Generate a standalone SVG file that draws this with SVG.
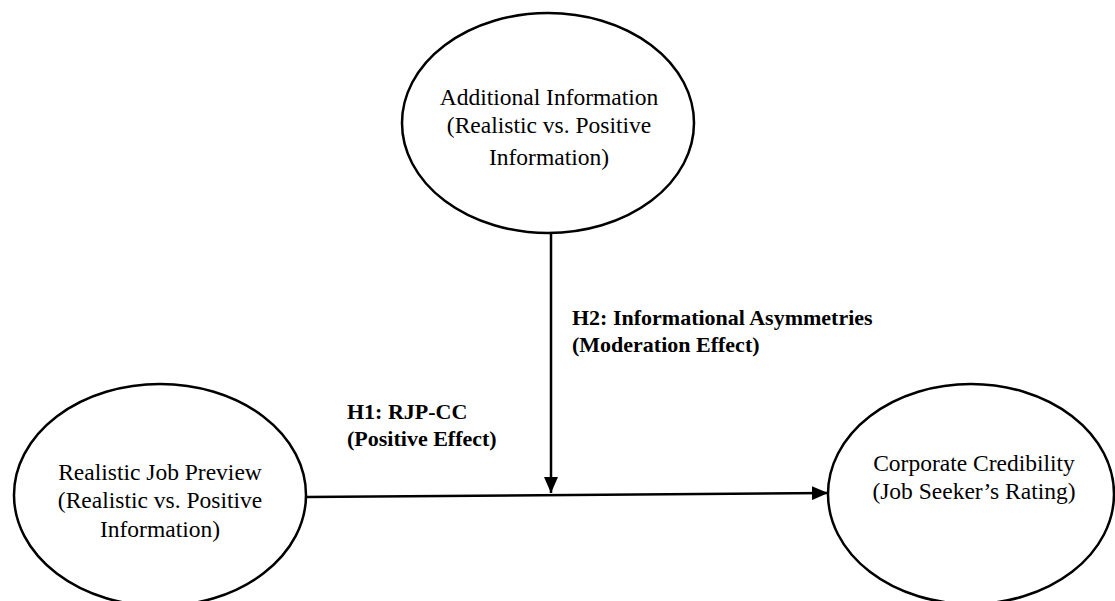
<svg xmlns="http://www.w3.org/2000/svg" width="1115" height="601" viewBox="0 0 1115 601">
<defs>
<style>
.node ellipse{fill:#fff;stroke:#000;stroke-width:2.5}
.t{font-family:"Liberation Serif","Times New Roman",serif;font-size:23.5px;fill:#000;text-anchor:middle}
.b{font-family:"Liberation Serif","Times New Roman",serif;font-size:22px;font-weight:bold;fill:#000}
.conn{stroke:#000;stroke-width:2.5;fill:none}
</style>
<marker id="arr" markerWidth="8" markerHeight="8" refX="7" refY="4" orient="auto" markerUnits="userSpaceOnUse" viewBox="0 0 8 8">
<path d="M0,0 L8,4 L0,8 Z" fill="#000"/>
</marker>
<marker id="ah" viewBox="0 0 16 14" refX="16" refY="7" markerWidth="16" markerHeight="14" markerUnits="userSpaceOnUse" orient="auto">
<path d="M0,0 L16,7 L0,14 Z" fill="#000"/>
</marker>
</defs>
<rect width="1115" height="601" fill="#fff"/>
<g id="connectors">
<line class="conn" x1="551" y1="233" x2="551" y2="493" marker-end="url(#ah)"/>
<line class="conn" x1="306" y1="497" x2="828" y2="493" marker-end="url(#ah)"/>
</g>
<g id="additional-info" class="node">
<ellipse cx="548" cy="123" rx="146" ry="110"/>
<text class="t" x="549" y="105">Additional Information</text>
<text class="t" x="549" y="133">(Realistic vs. Positive</text>
<text class="t" x="549" y="165">Information)</text>
</g>
<g id="rjp" class="node">
<ellipse cx="160" cy="495" rx="146" ry="111"/>
<text class="t" x="160" y="480">Realistic Job Preview</text>
<text class="t" x="160" y="508">(Realistic vs. Positive</text>
<text class="t" x="160" y="537">Information)</text>
</g>
<g id="cc" class="node">
<ellipse cx="971" cy="494" rx="143" ry="110"/>
<text class="t" x="974" y="471">Corporate Credibility</text>
<text class="t" x="974" y="499">(Job Seeker’s Rating)</text>
</g>
<g id="labels">
<text class="b" x="572" y="325">H2: Informational Asymmetries</text>
<text class="b" x="572" y="352">(Moderation Effect)</text>
<text class="b" x="347" y="419">H1: RJP-CC</text>
<text class="b" x="347" y="446">(Positive Effect)</text>
</g>
</svg>
